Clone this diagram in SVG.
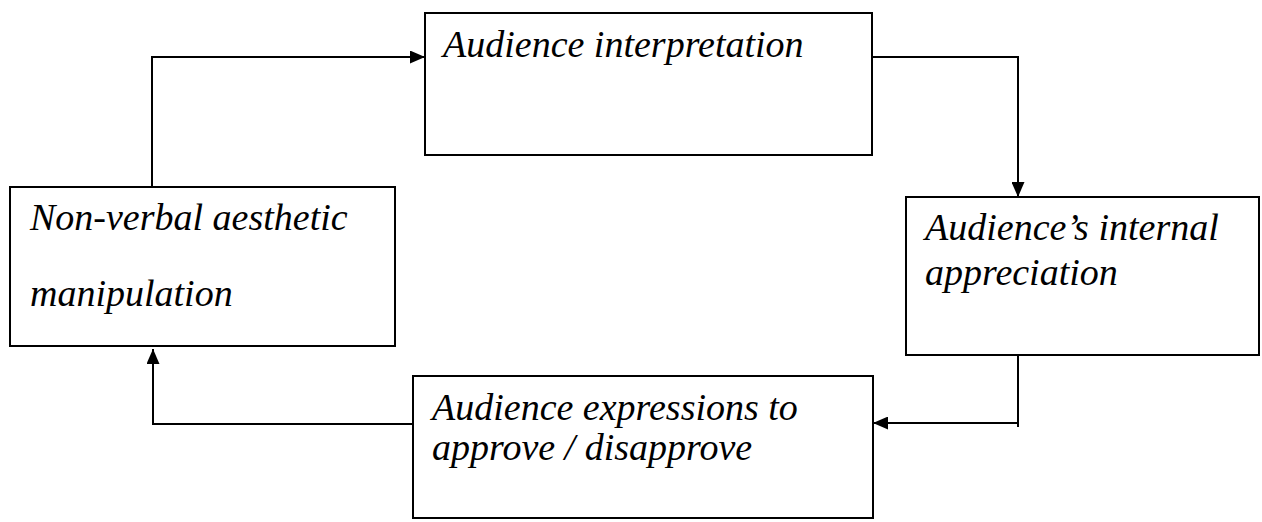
<svg xmlns="http://www.w3.org/2000/svg" width="1262" height="522" viewBox="0 0 1262 522">
<style>
.box{fill:#fff;stroke:#000;stroke-width:2}
.lbl{font-family:"Liberation Serif","Times New Roman",serif;font-style:italic;font-size:38px;fill:#000}
.con{fill:none;stroke:#000;stroke-width:2}
</style>
<defs>
<marker id="arr" viewBox="0 0 15 13" refX="15" refY="6.5" markerWidth="15" markerHeight="13" markerUnits="userSpaceOnUse" orient="auto">
<path d="M0,0 L15,6.5 L0,13 Z" fill="#000"/>
</marker>
</defs>
<rect width="1262" height="522" fill="#fff"/>
<g id="connectors">
<path class="con" d="M152,187 V57 H425" marker-end="url(#arr)"/>
<path class="con" d="M872,57 H1018 V197" marker-end="url(#arr)"/>
<path class="con" d="M1018,355 V427"/>
<path class="con" d="M1018,423 H873" marker-end="url(#arr)"/>
<path class="con" d="M413,424 H153 V349" marker-end="url(#arr)"/>
</g>
<g id="n-interpretation">
<rect class="box" x="425" y="13" width="447" height="142"/>
<text class="lbl" x="443" y="57">Audience interpretation</text>
</g>
<g id="n-nonverbal">
<rect class="box" x="10" y="187" width="385" height="159"/>
<text class="lbl" x="30" y="230">Non-verbal aesthetic</text>
<text class="lbl" x="30" y="306">manipulation</text>
</g>
<g id="n-internal">
<rect class="box" x="906" y="197" width="353" height="158"/>
<text class="lbl" x="925" y="240">Audience’s internal</text>
<text class="lbl" x="925" y="285">appreciation</text>
</g>
<g id="n-expressions">
<rect class="box" x="413" y="376" width="460" height="142"/>
<text class="lbl" x="432" y="420">Audience expressions to</text>
<text class="lbl" x="432" y="460">approve / disapprove</text>
</g>
</svg>
